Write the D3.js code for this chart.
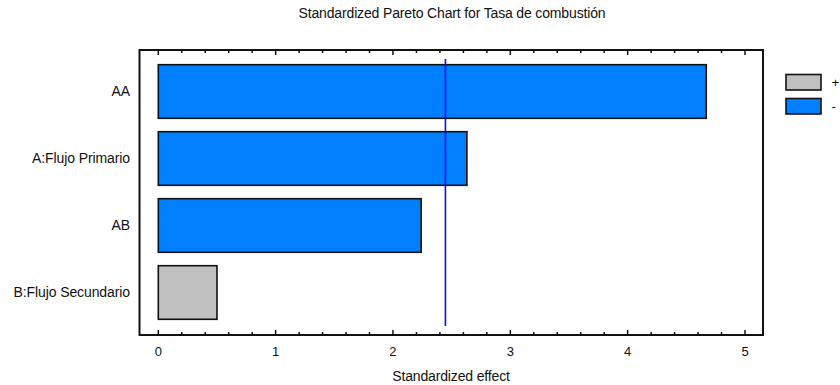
<!DOCTYPE html>
<html>
<head>
<meta charset="utf-8">
<script src="https://cdn.jsdelivr.net/npm/d3@7"></script>
<style>
  html, body { margin: 0; padding: 0; background: #fff; }
  svg { display: block; font-family: "Liberation Sans", Arial, sans-serif; }
</style>
</head>
<body>
<svg id="chart" width="840" height="385"></svg>
<script>
// Effects, ordered top to bottom
const factors = ["AA", "A:Flujo Primario", "AB", "B:Flujo Secundario"];
const effects = [4.67, 2.63, 2.24, 0.50];
const signs = ["-", "-", "-", "+"];
const criticalValue = 2.447;
const xTicks = [0, 1, 2, 3, 4, 5];
const legendSigns = ["+", "-"];

const colors = { "+": "#c0c0c0", "-": "#0080ff" };

const svg = d3.select("#chart");
const frame = { left: 139.5, right: 763, top: 50, bottom: 335 };

const x = d3.scaleLinear().domain([0, 5]).range([158.3, 745]);
const y = d3.scaleBand().domain(factors).range([58, 326]).paddingInner(0.2).paddingOuter(0.1);

// Title
svg.append("text")
  .attr("x", 452).attr("y", 17.5)
  .attr("text-anchor", "middle")
  .attr("font-size", 14).attr("letter-spacing", -0.15).attr("fill", "#111")
  .text("Standardized Pareto Chart for Tasa de combustión");

// Bars
svg.append("g").selectAll("rect")
  .data(factors)
  .join("rect")
  .attr("x", x(0))
  .attr("y", d => y(d))
  .attr("width", (d, i) => x(effects[i]) - x(0))
  .attr("height", y.bandwidth())
  .attr("fill", (d, i) => colors[signs[i]])
  .attr("stroke", "#111")
  .attr("stroke-width", 1.6);

// Critical value line
svg.append("line")
  .attr("x1", x(criticalValue)).attr("x2", x(criticalValue))
  .attr("y1", 59).attr("y2", 326)
  .attr("stroke", "#0a0aff").attr("stroke-width", 1.6);

// Frame
svg.append("rect")
  .attr("x", frame.left).attr("y", frame.top)
  .attr("width", frame.right - frame.left)
  .attr("height", frame.bottom - frame.top)
  .attr("fill", "none").attr("stroke", "#111").attr("stroke-width", 2);

// Ticks on bottom and top edges, pointing inward
const minorTicks = d3.range(0, 5.0001, 0.2);
const tickG = svg.append("g").attr("stroke", "#111").attr("stroke-width", 1.5);
minorTicks.forEach(v => {
  const major = Math.abs(v - Math.round(v)) < 1e-6;
  const len = major ? 5 : 3;
  tickG.append("line").attr("x1", x(v)).attr("x2", x(v))
    .attr("y1", frame.bottom).attr("y2", frame.bottom - len);
  tickG.append("line").attr("x1", x(v)).attr("x2", x(v))
    .attr("y1", frame.top).attr("y2", frame.top + len);
});

// X tick labels
svg.append("g").selectAll("text")
  .data(xTicks)
  .join("text")
  .attr("x", d => x(d))
  .attr("y", 355.5)
  .attr("text-anchor", "middle")
  .attr("font-size", 13).attr("fill", "#111")
  .text(d => d);

// X axis title
svg.append("text")
  .attr("x", 451).attr("y", 381)
  .attr("text-anchor", "middle")
  .attr("font-size", 14).attr("letter-spacing", -0.15).attr("fill", "#111")
  .text("Standardized effect");

// Y labels
svg.append("g").selectAll("text")
  .data(factors)
  .join("text")
  .attr("x", 130)
  .attr("y", d => y(d) + y.bandwidth() / 2)
  .attr("dy", "0.35em")
  .attr("text-anchor", "end")
  .attr("font-size", 14).attr("letter-spacing", -0.1).attr("fill", "#111")
  .text(d => d);

// Legend
const legend = svg.append("g").selectAll("g")
  .data(legendSigns)
  .join("g")
  .attr("transform", (d, i) => `translate(786, ${74.5 + i * 24})`);
legend.append("rect")
  .attr("width", 35).attr("height", 15.5)
  .attr("fill", d => colors[d])
  .attr("stroke", "#111").attr("stroke-width", 1.6);
legend.append("text")
  .attr("x", 45.5).attr("y", 8)
  .attr("dy", "0.35em")
  .attr("font-size", 13.5).attr("fill", "#111")
  .text(d => d);
</script>
</body>
</html>
